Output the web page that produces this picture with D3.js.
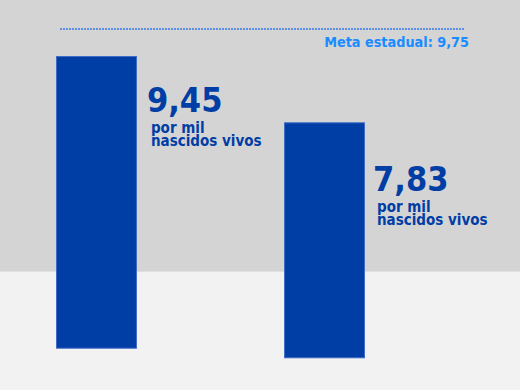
<!DOCTYPE html>
<html><head><meta charset="utf-8">
<script src="https://cdn.jsdelivr.net/npm/d3@7"></script>
<style>html,body{margin:0;padding:0;background:#f2f2f2;}svg{display:block;}</style>
</head><body>
<script>
const categories = ["Ano anterior", "Ano atual"];
const values = [9.45, 7.83];
const valueLabels = ["9,45", "7,83"];
const unitLines = ["por mil", "nascidos vivos"];
const goalValue = 9.75;
const goalLabel = "Meta estadual: 9,75";

const W = 520, H = 390;
const svg = d3.select("body").append("svg").attr("width", W).attr("height", H);
const font = "'DejaVu Sans Condensed', 'DejaVu Sans', sans-serif";

svg.append("rect").attr("x",0).attr("y",0).attr("width",W).attr("height",271).attr("fill","#d4d4d4");
svg.append("rect").attr("x",0).attr("y",271).attr("width",W).attr("height",H-271).attr("fill","#f2f2f2");
svg.append("line").attr("x1",0).attr("x2",W).attr("y1",271.5).attr("y2",271.5).attr("stroke","#e0e0e0").attr("stroke-width",1);

const x = d3.scaleBand().domain(categories).range([56, 365]).paddingInner(0.645).paddingOuter(0);
const h = d3.scaleLinear().domain([1.086, 9.45]).range([0, 292.7]);
const bottoms = [348.7, 358.3];
const labelDy = [56, 69];
const labelDx = [10, 8];

const g = svg.append("g");
categories.forEach((c, i) => {
  const bx = x(c), bw = x.bandwidth();
  const top = bottoms[i] - h(values[i]);
  g.append("rect").attr("x", bx+0.5).attr("y", top+0.5).attr("width", bw-1).attr("height", h(values[i])-1)
    .attr("fill", "#003da5").attr("stroke", "#3f6cc6").attr("stroke-width", 1);
  const tx = bx + bw + labelDx[i];
  const ty = top + labelDy[i];
  g.append("text").attr("x", tx).attr("y", ty).text(valueLabels[i])
    .attr("font-family", font).attr("font-weight", "bold").attr("font-size", 34).attr("fill", "#003da5");
  const t = g.append("text").attr("x", tx + 4).attr("y", ty + 21)
    .attr("font-family", font).attr("font-weight", "bold").attr("font-size", 15).attr("fill", "#003da5");
  unitLines.forEach((u, j) => {
    t.append("tspan").attr("x", tx + 4).attr("y", ty + 21 + j*13).text(u);
  });
});

// goal line
const goalY = 29;
svg.append("line").attr("x1", 60).attr("x2", 465).attr("y1", goalY).attr("y2", goalY)
  .attr("stroke", "#3a78ee").attr("stroke-width", 1.4).attr("stroke-dasharray", "2,1");
svg.append("text").attr("x", 469).attr("y", 47).attr("text-anchor", "end").text(goalLabel)
  .attr("font-family", font).attr("font-weight", "bold").attr("font-size", 14.3).attr("fill", "#1a8cff");
</script>
</body></html>
